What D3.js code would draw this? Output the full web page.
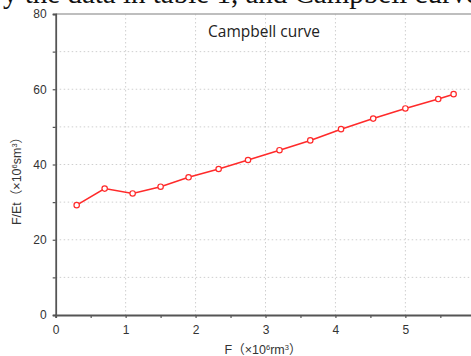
<!DOCTYPE html>
<html>
<head>
<meta charset="utf-8">
<script src="https://cdn.jsdelivr.net/npm/d3@7"></script>
<style>
  body { margin: 0; background: #fff; }
  svg { display: block; font-family: "Liberation Sans", Arial, "Noto Sans CJK SC", sans-serif; }
</style>
</head>
<body>
<div id="chart"></div>
<script>
// F (x10^6 rm^3) and F/Et (x10^6 sm^3)
const fVals = [0.3, 0.7, 1.1, 1.5, 1.9, 2.33, 2.75, 3.2, 3.64, 4.08, 4.54, 5.0, 5.47, 5.69];
const ratioVals = [29.2, 33.6, 32.3, 34.1, 36.6, 38.8, 41.2, 43.8, 46.4, 49.4, 52.2, 54.9, 57.4, 58.7];
const xTicks = [0, 1, 2, 3, 4, 5, 6];
const yTicks = [0, 20, 40, 60, 80];
const title = "Campbell curve";
const caption = "y the data in table 1, and Campbell curve";

const width = 471, height = 356;
const data = fVals.map((f, i) => ({ f: f, r: ratioVals[i] }));

const svg = d3.select("#chart").append("svg")
  .attr("width", width)
  .attr("height", height);

const x = d3.scaleLinear().domain([0, 6]).range([55.7, 475.3]);
const y = d3.scaleLinear().domain([0, 80]).range([315, 14]);

// cropped caption line from the page above the figure
svg.append("text")
  .attr("x", 3).attr("y", 2.5)
  .attr("font-family", "Liberation Serif, Times New Roman, serif")
  .attr("font-size", 29)
  .attr("fill", "#111")
  .text(caption);

// grid
const grid = svg.append("g")
  .attr("stroke", "#cfcfcf")
  .attr("stroke-width", 1)
  .attr("stroke-dasharray", "1.5,2.5");

grid.selectAll("line.h")
  .data(d3.range(10, 80, 10))
  .join("line")
    .attr("class", "h")
    .attr("x1", x(0)).attr("x2", width)
    .attr("y1", d => y(d)).attr("y2", d => y(d));

grid.selectAll("line.v")
  .data(xTicks.filter(d => d > 0))
  .join("line")
    .attr("class", "v")
    .attr("x1", d => x(d)).attr("x2", d => x(d))
    .attr("y1", y(80)).attr("y2", y(0));

// top frame
svg.append("line")
  .attr("x1", x(0)).attr("x2", width)
  .attr("y1", y(80)).attr("y2", y(80))
  .attr("stroke", "#a8a8a8")
  .attr("stroke-width", 1.6);

// axes
const xAxis = svg.append("g")
  .attr("transform", `translate(0,${y(0)})`)
  .call(d3.axisBottom(x).tickValues(d3.range(0, 6.01, 0.5))
    .tickSize(3).tickFormat(d => Number.isInteger(d) ? d : ""));

const yAxis = svg.append("g")
  .attr("transform", `translate(${x(0)},0)`)
  .call(d3.axisLeft(y).tickValues(d3.range(0, 81, 10))
    .tickSize(3).tickFormat(d => yTicks.includes(d) ? d : ""));

[xAxis, yAxis].forEach(g => {
  g.select(".domain").attr("stroke", "#555").attr("stroke-width", 1.8);
  g.selectAll(".tick line").attr("stroke", "#555").attr("stroke-width", 1.2);
  g.selectAll(".tick text")
    .attr("fill", "#333")
    .attr("font-size", 12)
    .attr("font-family", "Liberation Sans, Arial, sans-serif");
});
xAxis.selectAll(".tick text").attr("dy", "1.05em");
yAxis.selectAll(".tick text").attr("x", -9);

// line and markers
svg.append("path")
  .datum(data)
  .attr("fill", "none")
  .attr("stroke", "#ff2a2a")
  .attr("stroke-width", 1.6)
  .attr("d", d3.line().x(d => x(d.f)).y(d => y(d.r)));

svg.append("g")
  .selectAll("circle")
  .data(data)
  .join("circle")
    .attr("cx", d => x(d.f))
    .attr("cy", d => y(d.r))
    .attr("r", 2.7)
    .attr("fill", "#fff")
    .attr("stroke", "#ff2a2a")
    .attr("stroke-width", 1.2);

// title
svg.append("text")
  .attr("x", 264).attr("y", 37)
  .attr("text-anchor", "middle")
  .attr("font-family", "Open Sans, Noto Sans, sans-serif")
  .attr("font-size", 15.5)
  .attr("fill", "#222")
  .text(title);

// axis labels
const xl = svg.append("text")
  .attr("x", 263).attr("y", 354)
  .attr("text-anchor", "middle")
  .attr("font-size", 12.5)
  .attr("fill", "#333");
xl.append("tspan").text("F（×10");
xl.append("tspan").attr("font-size", 7.5).attr("dy", -4).text("6");
xl.append("tspan").attr("dy", 4).text("rm");
xl.append("tspan").attr("font-size", 7.5).attr("dy", -4).text("3");
xl.append("tspan").attr("dy", 4).text("）");

const yl = svg.append("text")
  .attr("transform", "translate(21,178) rotate(-90)")
  .attr("text-anchor", "middle")
  .attr("font-size", 12.5)
  .attr("fill", "#333");
yl.append("tspan").text("F/Et（×10");
yl.append("tspan").attr("font-size", 7.5).attr("dy", -4).text("6");
yl.append("tspan").attr("dy", 4).text("sm");
yl.append("tspan").attr("font-size", 7.5).attr("dy", -4).text("3");
yl.append("tspan").attr("dy", 4).text("）");
</script>
</body>
</html>
